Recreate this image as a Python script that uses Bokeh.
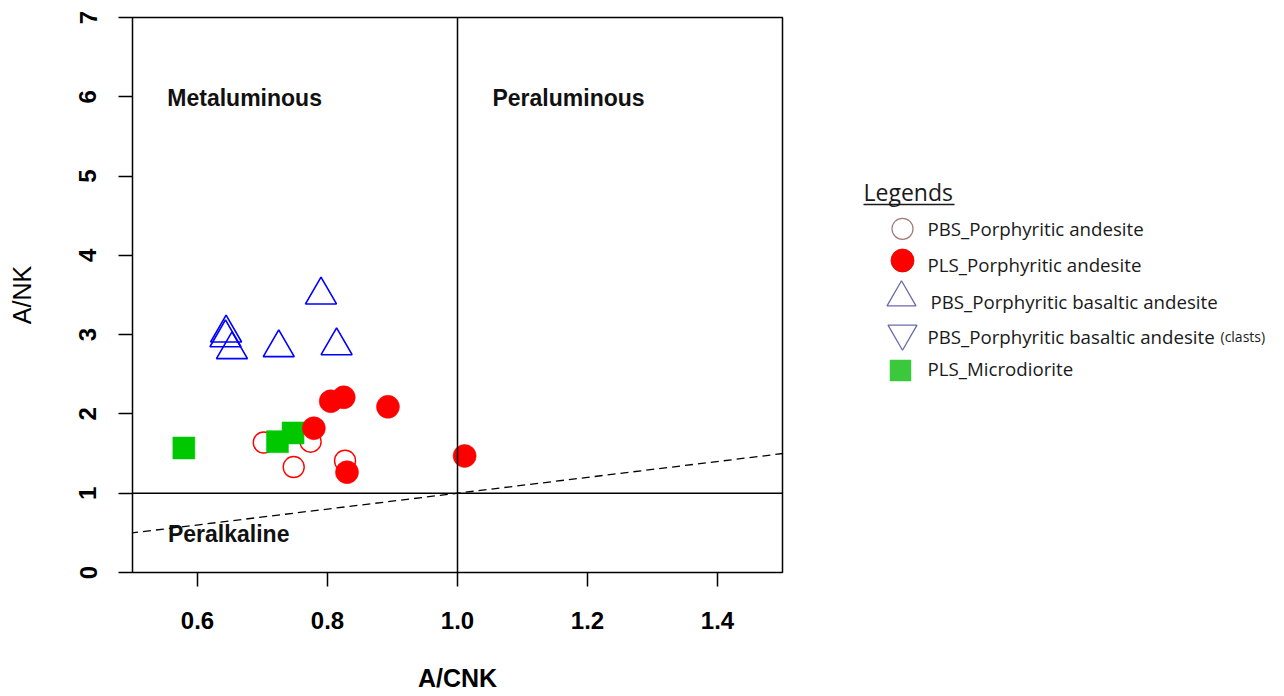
from bokeh.plotting import figure
from bokeh.layouts import row
from bokeh.models import Range1d, FixedTicker, PrintfTickFormatter, Span, Slope
from bokeh.core.properties import value
from bokeh.embed import file_html
from bokeh.resources import INLINE

# ---------------- data ----------------
pbs_andesite_x = [0.702, 0.774, 0.748, 0.827]
pbs_andesite_y = [1.64, 1.65, 1.33, 1.41]

pls_andesite_x = [0.805, 0.825, 0.893, 0.779, 0.830, 1.011]
pls_andesite_y = [2.16, 2.21, 2.09, 1.82, 1.265, 1.47]

pbs_basaltic_x = [0.790, 0.644, 0.643, 0.653, 0.725, 0.814]
pbs_basaltic_y = [3.50, 3.02, 2.96, 2.81, 2.835, 2.86]

pls_microdiorite_x = [0.579, 0.723, 0.747]
pls_microdiorite_y = [1.57, 1.65, 1.76]

x_ticks = [0.6, 0.8, 1.0, 1.2, 1.4]
y_ticks = [0, 1, 2, 3, 4, 5, 6, 7]

region_labels = ["Metaluminous", "Peraluminous", "Peralkaline"]
region_x = [0.6725, 1.1708, 0.648]
region_y = [5.98, 5.98, 0.49]

legend_title = "Legends"
legend_labels = [
    "PBS_Porphyritic andesite",
    "PLS_Porphyritic andesite",
    "PBS_Porphyritic basaltic andesite",
    "PBS_Porphyritic basaltic andesite",
    "PLS_Microdiorite",
]
legend_suffix = "(clasts)"

# ---------------- main plot ----------------
FONT = "Liberation Sans"
H = 695
TOP, FRAME_H = 17, 555
BOTTOM = H - TOP - FRAME_H

p = figure(width=820, height=H, x_range=Range1d(0.5, 1.5), y_range=Range1d(0, 7),
           output_backend="svg", toolbar_location=None,
           min_border_left=132, min_border_right=38, min_border_top=TOP,
           min_border_bottom=BOTTOM,
           x_axis_label="A/CNK", y_axis_label="A/NK")
p.xgrid.visible = False
p.ygrid.visible = False
p.outline_line_color = "black"
p.outline_line_width = 1.5
p.background_fill_color = "white"
p.border_fill_color = "white"

for ax in (p.xaxis[0], p.yaxis[0]):
    ax.axis_line_color = None
    ax.major_tick_out = 14
    ax.major_tick_in = 0
    ax.minor_tick_out = 0
    ax.minor_tick_in = 0
    ax.major_tick_line_color = "black"
    ax.major_tick_line_width = 1.5
    ax.major_label_text_font = FONT
    ax.major_label_text_font_style = "bold"
    ax.major_label_text_font_size = "24px"
    ax.major_label_text_color = "black"
    ax.axis_label_text_font = FONT
    ax.axis_label_text_font_size = "25px"
    ax.axis_label_text_color = "black"

p.xaxis.ticker = FixedTicker(ticks=x_ticks)
p.xaxis.formatter = PrintfTickFormatter(format="%.1f")
p.xaxis.major_label_standoff = 25
p.xaxis.axis_label_text_font_style = "bold"
p.xaxis.axis_label_standoff = 32

p.yaxis.ticker = FixedTicker(ticks=y_ticks)
p.yaxis.formatter = PrintfTickFormatter(format="%d")
p.yaxis.major_label_orientation = "vertical"
p.yaxis.major_label_standoff = 22
p.yaxis.axis_label_text_font_style = "normal"
p.yaxis.axis_label_standoff = 41

# reference lines
p.add_layout(Span(location=1, dimension="width", line_color="black", line_width=1.5))
p.add_layout(Span(location=1, dimension="height", line_color="black", line_width=1.5))
p.add_layout(Slope(gradient=1, y_intercept=0, line_color="black", line_width=1.3,
                   line_dash="8 5"))

# region labels
p.text(x=region_x, y=region_y, text=region_labels, text_font=value(FONT),
       text_font_style="bold", text_font_size="23px", text_align="center",
       text_baseline="alphabetic", text_color="#111111")

# data
p.scatter(pbs_andesite_x, pbs_andesite_y, marker="circle", size=21,
          fill_color=None, line_color="#FF0000", line_width=1.4)
p.scatter(pbs_basaltic_x, pbs_basaltic_y, marker="triangle", size=31,
          fill_color=None, line_color="#0000FF", line_width=1.6)
p.scatter(pls_microdiorite_x, pls_microdiorite_y, marker="square", size=22,
          fill_color="#00C800", line_color="#00C800", line_width=0.5)
p.scatter(pls_andesite_x, pls_andesite_y, marker="circle", size=23,
          fill_color="#FF0000", line_color="#FF0000", line_width=0.5)

# ---------------- legend panel (page-pixel coordinates, top-down) ----------------
# Its frame is aligned with the main frame (rows TOP .. TOP+FRAME_H).
LW = 448
leg = figure(width=LW, height=H, x_range=Range1d(0, LW),
             y_range=Range1d(TOP + FRAME_H, TOP),
             output_backend="svg", toolbar_location=None,
             x_axis_location=None, y_axis_location=None,
             min_border_left=0, min_border_right=0,
             min_border_top=TOP, min_border_bottom=BOTTOM)
leg.grid.visible = False
leg.outline_line_color = None
leg.background_fill_color = "white"
leg.border_fill_color = "white"

LFONT = "Open Sans"
leg.text(x=[43], y=[191], text=[legend_title], text_font=value(LFONT),
         text_font_size="23px", text_baseline="alphabetic", text_color="#1a1a1a")
leg.line(x=[43, 134], y=[204, 204], line_color="#1a1a1a", line_width=1.3)

marker_x = [82, 82, 81, 82, 80]
marker_y = [228.3, 260, 297, 333, 370]
label_x = [107, 107, 110, 107, 107]
label_y = [228.1, 264.1, 301.4, 335.9, 368.1]

styles = [
    dict(marker="circle", size=21, fill_color="white", line_color="#A27A7A", line_width=1.2),
    dict(marker="circle", size=23, fill_color="#FF0000", line_color="#E00000", line_width=0.8),
    dict(marker="triangle", size=29, fill_color="white", line_color="#6A6AAA", line_width=1.3),
    dict(marker="inverted_triangle", size=29, fill_color="white", line_color="#6A6AAA", line_width=1.3),
    dict(marker="square", size=21, fill_color="#3CC83C", line_color="#3CC83C", line_width=0.5),
]
for i, st in enumerate(styles):
    leg.scatter([marker_x[i]], [marker_y[i]], **st)

leg.text(x=label_x, y=label_y, text=legend_labels, text_font=value(LFONT),
         text_font_size="18.7px", text_baseline="alphabetic", text_color="#1a1a1a")
leg.text(x=[400], y=[label_y[3]], text=[legend_suffix], text_font=value(LFONT),
         text_font_size="14px", text_baseline="alphabetic", text_color="#1a1a1a")

layout = row(p, leg)
open("out.html", "w").write(file_html(layout, INLINE))
